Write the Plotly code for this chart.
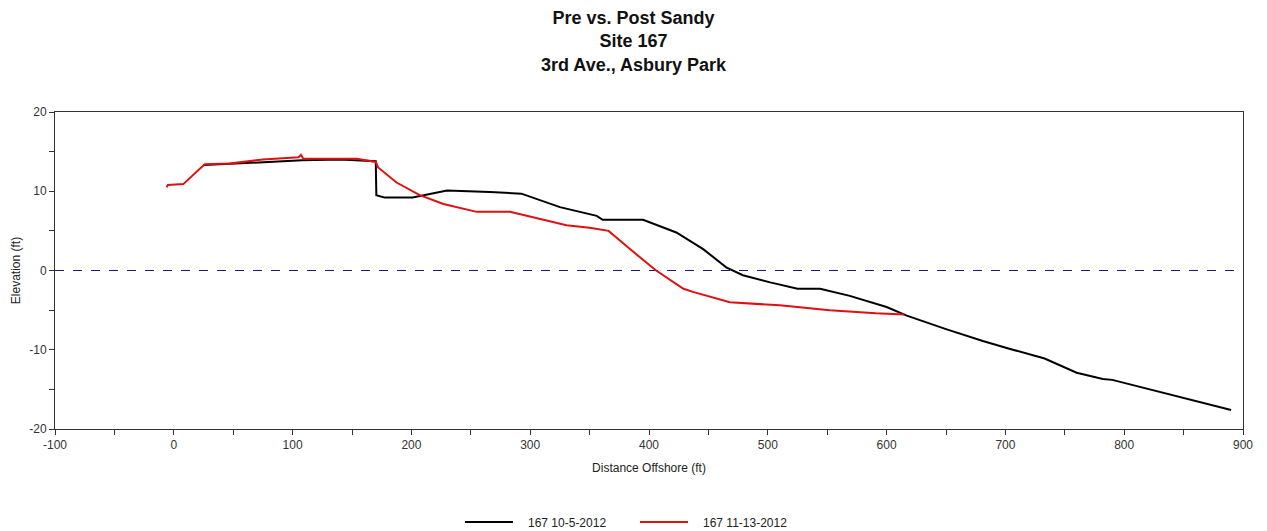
import plotly.graph_objects as go

pre_x = [25, 50, 75, 108, 140, 170, 170.5, 177.6, 201, 230, 266, 292.6, 325, 356, 361, 395, 423, 445.6, 465, 479, 502, 525, 544, 569, 600, 617, 650, 681, 704, 733, 760, 782, 790, 822, 855, 890]
pre_y = [13.3, 13.5, 13.7, 13.9, 14.0, 13.8, 9.5, 9.2, 9.2, 10.1, 9.9, 9.7, 8.0, 6.9, 6.4, 6.4, 4.8, 2.7, 0.4, -0.6, -1.5, -2.3, -2.3, -3.2, -4.6, -5.7, -7.4, -8.9, -9.9, -11.1, -12.9, -13.7, -13.8, -15.0, -16.3, -17.6]

post_x = [-6, -5, 8, 26, 47, 75, 105, 107, 109, 154, 170, 172, 187.5, 207, 227, 255, 283, 330.5, 350, 366, 384, 406, 429, 437, 468, 510, 552, 591, 615]
post_y = [10.5, 10.8, 10.9, 13.4, 13.5, 14.0, 14.3, 14.6, 14.1, 14.1, 13.7, 13.0, 11.1, 9.5, 8.4, 7.4, 7.4, 5.7, 5.4, 5.0, 2.7, 0.0, -2.3, -2.7, -4.0, -4.4, -5.0, -5.4, -5.55]

names = ["167 10-5-2012", "167 11-13-2012"]
title_lines = ["Pre vs. Post Sandy", "Site 167", "3rd Ave., Asbury Park"]
x_ticks = [-100, 0, 100, 200, 300, 400, 500, 600, 700, 800, 900]
y_ticks = [-20, -10, 0, 10, 20]

FONT = "Liberation Sans, Arial, sans-serif"
PAD = "\u00a0\u00a0\u00a0"

fig = go.Figure()
fig.add_trace(go.Scatter(x=pre_x, y=pre_y, mode="lines", name=PAD + names[0],
                         line=dict(color="#000000", width=2)))
fig.add_trace(go.Scatter(x=post_x, y=post_y, mode="lines", name=PAD + names[1],
                         line=dict(color="#e01010", width=2)))

fig.add_shape(type="line", xref="paper", x0=0, x1=1, yref="y", y0=0, y1=0,
              line=dict(color="#1a1a6e", width=1, dash="dash"), layer="below")

fig.update_layout(
    width=1267, height=531,
    margin=dict(l=55, r=24, t=112, b=102),
    paper_bgcolor="white", plot_bgcolor="white",
    font=dict(family=FONT, color="#333333", size=12),
    title=dict(text="<br>".join(f"<b>{t}</b>" for t in title_lines),
               x=0.5, xanchor="center", xref="container",
               yref="container", y=1 - 24 / 531, yanchor="top",
               font=dict(family=FONT, size=18, color="#111111")),
    showlegend=True,
    legend=dict(orientation="h", xref="container", x=460 / 1267, xanchor="left",
                yref="container", y=9 / 531, yanchor="middle",
                font=dict(family=FONT, size=12, color="#222222"),
                itemwidth=48, entrywidth=112, entrywidthmode="pixels",
                traceorder="normal"),
    xaxis=dict(range=[-100, 900], tickvals=x_ticks, ticktext=[str(v) for v in x_ticks],
               showgrid=False, zeroline=False,
               showline=True, linecolor="#333333", linewidth=1, mirror=True,
               ticks="outside", ticklen=5, tickcolor="#333333",
               minor=dict(dtick=50, tick0=-100, ticks="outside", ticklen=5, tickcolor="#333333"),
               title=dict(text="Distance Offshore (ft)", standoff=12,
                          font=dict(family=FONT, size=12, color="#222222"))),
    yaxis=dict(range=[-20, 20], tickvals=y_ticks, ticktext=[str(v) for v in y_ticks],
               showgrid=False, zeroline=False,
               showline=True, linecolor="#333333", linewidth=1, mirror=True,
               ticks="outside", ticklen=5, tickcolor="#333333",
               minor=dict(dtick=5, tick0=-20, ticks="outside", ticklen=5, tickcolor="#333333"),
               title=dict(text="Elevation (ft)", standoff=6,
                          font=dict(family=FONT, size=12, color="#222222"))),
)

fig.write_html("out.html")
